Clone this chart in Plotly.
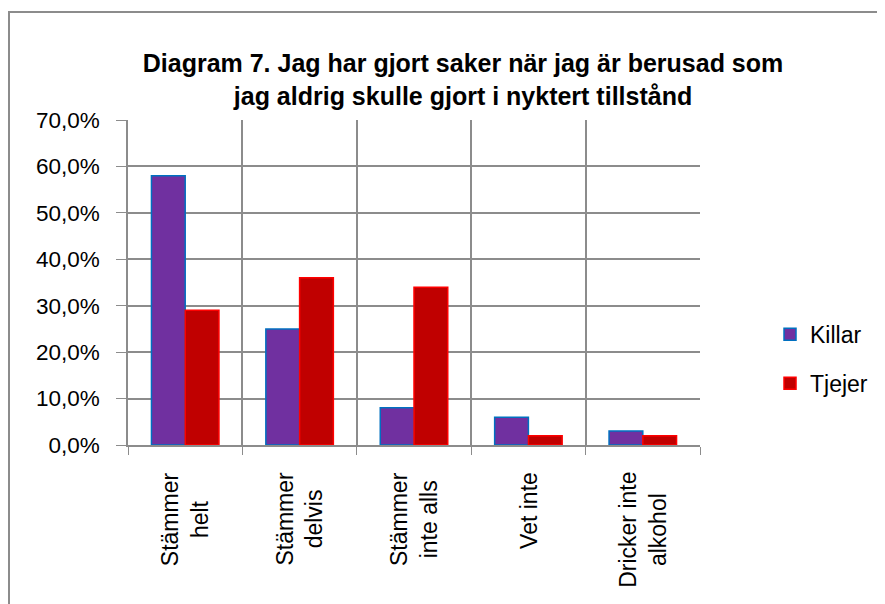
import plotly.graph_objects as go

categories = ["Stämmer helt", "Stämmer delvis", "Stämmer inte alls", "Vet inte", "Dricker inte alkohol"]
category_labels = ["Stämmer<br>helt", "Stämmer<br>delvis", "Stämmer<br>inte alls", "Vet inte", "Dricker inte<br>alkohol"]
killar = [0.58, 0.25, 0.08, 0.06, 0.03]
tjejer = [0.29, 0.36, 0.34, 0.02, 0.02]
tick_vals = [0, 0.1, 0.2, 0.3, 0.4, 0.5, 0.6, 0.7]
tick_text = ["0,0%", "10,0%", "20,0%", "30,0%", "40,0%", "50,0%", "60,0%", "70,0%"]

FONT = "Liberation Sans"
grid = "#8C8C8C"

fig = go.Figure()
fig.add_trace(go.Bar(name="Killar", x=categories, y=killar, legendgroup="k",
                     marker=dict(color="#7030A0", line=dict(color="#0070C0", width=1.5))))
fig.add_trace(go.Bar(name="Tjejer", x=categories, y=tjejer, legendgroup="t",
                     marker=dict(color="#C00000", line=dict(color="#FF0000", width=1.5))))

fig.update_layout(
    width=885, height=604,
    margin=dict(l=120, r=193, t=112, b=167, autoexpand=False),
    paper_bgcolor="white", plot_bgcolor="white",
    barmode="group", bargap=0.41, bargroupgap=0,
    font=dict(family=FONT, size=18, color="black"),
    title=dict(text="<b>Diagram 7. Jag har gjort saker när jag är berusad som<br>jag aldrig skulle gjort i nyktert tillstånd</b>",
               x=455/885, xanchor="center", y=1-64/604, yanchor="middle",
               font=dict(family=FONT, size=25, color="black")),
    legend=dict(x=1.1224, y=0.265, xanchor="left", yanchor="middle",
                font=dict(size=23), tracegroupgap=16, bgcolor="rgba(0,0,0,0)"),
    showlegend=True,
)
fig.update_xaxes(type="category", tickson="boundaries", showgrid=True, gridcolor=grid, gridwidth=1.5,
                 showline=True, linecolor=grid, linewidth=1.5, ticks="outside", ticklen=8, tickcolor=grid,
                 showticklabels=False)
fig.update_yaxes(range=[0, 0.7], tickvals=tick_vals, ticktext=tick_text, showgrid=True, gridcolor=grid,
                 gridwidth=1.5, showline=True, linecolor=grid, linewidth=1.5, ticks="outside", ticklen=10,
                 tickcolor=grid, tickfont=dict(size=22.5, family=FONT), zeroline=False,
                 ticklabelstandoff=12)

for cat, lab in zip(categories, category_labels):
    fig.add_annotation(x=cat, xref="x", y=-25/325, yref="paper", text=lab, textangle=-90,
                       showarrow=False, xanchor="center", yanchor="top", align="center",
                       font=dict(size=23, family=FONT, color="black"))

# outer chart border
fig.add_shape(type="rect", xref="paper", yref="paper",
              x0=(1-120)/572, x1=1.45, y0=-0.6, y1=(437-4)/325,
              line=dict(color="#8C8C8C", width=2), fillcolor="rgba(0,0,0,0)", layer="below")

fig.write_html("out.html")
